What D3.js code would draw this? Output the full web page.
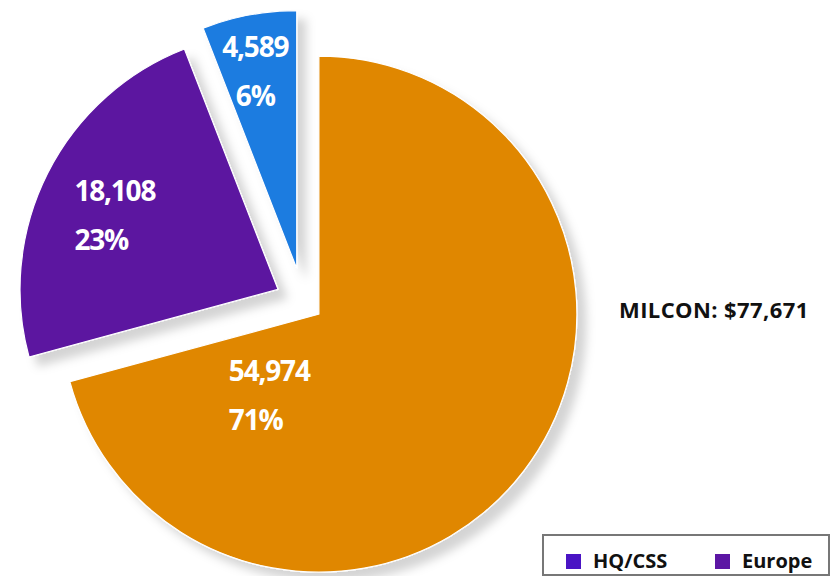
<!DOCTYPE html>
<html>
<head>
<meta charset="utf-8">
<script src="https://cdn.jsdelivr.net/npm/d3@7"></script>
<style>
  body { margin: 0; background: #fff; }
  svg { display: block; font-family: "Open Sans", "Noto Sans", sans-serif; }
</style>
</head>
<body>
<svg id="chart"></svg>
<script>
// slice values (in clockwise order from 12 o'clock)
var sliceValues = [54974, 18108, 4589];
var sliceColors = ['#e08700', '#5b16a0', '#1e7be0'];

// legend entries visible in the picture
var legendLabels = ['HQ/CSS', 'Europe'];
var legendColors = ['#4a14c4', '#5c16a4'];

var totalLabel = 'MILCON: ';

var width = 830, height = 576,
    radius = 258,
    cx = 303, cy = 302,
    explode = [20, 28, 34],         // how far each slice is pulled out
    labelAngle = [0.83, 0.47, 0.44],  // where the label sits inside the slice (fraction of its sweep)
    labelRadius = [95, 179, 201],
    labelAlign = ['start', 'start', 'middle'];

var svg = d3.select('#chart')
    .attr('width', width)
    .attr('height', height)
    .attr('viewBox', '0 0 ' + width + ' ' + height);

var defs = svg.append('defs');
var f = defs.append('filter').attr('id', 'shadow')
    .attr('x', '-20%').attr('y', '-20%').attr('width', '150%').attr('height', '150%');
f.append('feDropShadow')
    .attr('dx', 9).attr('dy', 9)
    .attr('stdDeviation', 5)
    .attr('flood-color', '#000')
    .attr('flood-opacity', 0.17);

var total = d3.sum(sliceValues);
var fmt = d3.format(','), pct = d3.format('.0%');

var pie = d3.pie().sort(null).startAngle(0).endAngle(2 * Math.PI);
var arc = d3.arc().innerRadius(0).outerRadius(radius);
var arcs = pie(sliceValues);

function polar(a, r) {
  return { x: Math.sin(a) * r, y: -Math.cos(a) * r };
}

var slices = svg.append('g').attr('class', 'slices')
  .selectAll('g')
  .data(arcs)
  .enter().append('g')
  .attr('transform', function(d, i) {
    var p = polar((d.startAngle + d.endAngle) / 2, explode[i]);
    return 'translate(' + (cx + p.x) + ',' + (cy + p.y) + ')';
  });

slices.append('path')
  .attr('d', arc)
  .attr('fill', function(d, i) { return sliceColors[i]; })
  .attr('stroke', '#fff')
  .attr('stroke-width', 1.2)
  .attr('filter', 'url(#shadow)');

// value + percent labels
slices.each(function(d, i) {
  var g = d3.select(this),
      a = d.startAngle + (d.endAngle - d.startAngle) * labelAngle[i],
      p = polar(a, labelRadius[i]);
  var t1 = g.append('text')
    .attr('x', p.x)
    .attr('y', p.y - 14.5)
    .attr('text-anchor', 'middle')
    .attr('fill', '#fff')
    .attr('font-size', 28)
    .attr('font-weight', 700)
    .attr('letter-spacing', -1.2)
    .text(fmt(d.value));
  var x2 = p.x;
  if (labelAlign[i] === 'start') {
    x2 = t1.node().getBBox().x;
    t1.attr('text-anchor', 'start').attr('x', x2);
  }
  g.append('text')
    .attr('x', x2)
    .attr('y', p.y + 34.5)
    .attr('text-anchor', labelAlign[i])
    .attr('fill', '#fff')
    .attr('font-size', 28)
    .attr('font-weight', 700)
    .attr('letter-spacing', -1.2)
    .text(pct(d.value / total));
});

// total label
svg.append('text')
  .attr('x', 619)
  .attr('y', 318)
  .attr('font-size', 22)
  .attr('font-weight', 700)
  .attr('letter-spacing', 0.4)
  .attr('fill', '#111')
  .text(totalLabel + '$' + fmt(total));

// legend box (runs off the bottom right corner)
var legend = svg.append('g').attr('class', 'legend');
legend.append('rect')
  .attr('x', 543).attr('y', 535)
  .attr('width', 286).attr('height', 40)
  .attr('fill', '#fff')
  .attr('stroke', '#777')
  .attr('stroke-width', 2);

var legendX = d3.scalePoint().domain(legendLabels).range([566, 715]);

var items = legend.selectAll('g.item')
  .data(legendLabels)
  .enter().append('g')
  .attr('class', 'item')
  .attr('transform', function(d) { return 'translate(' + legendX(d) + ',554)'; });

items.append('rect')
  .attr('width', 15).attr('height', 15)
  .attr('fill', function(d, i) { return legendColors[i]; });

items.append('text')
  .attr('x', 27)
  .attr('y', 14)
  .attr('font-size', 20)
  .attr('font-weight', 700)
  .attr('fill', '#111')
  .text(function(d) { return d; });
</script>
</body>
</html>
